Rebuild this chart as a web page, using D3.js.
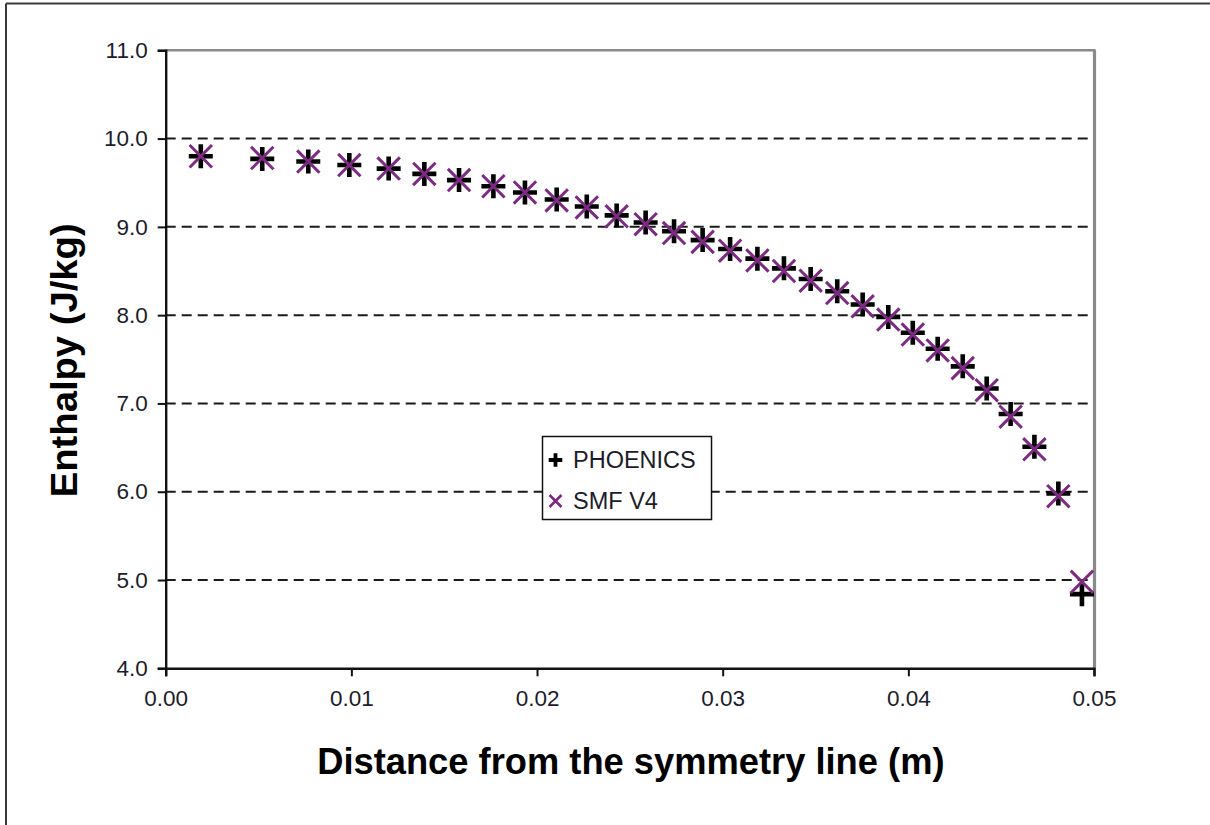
<!DOCTYPE html>
<html>
<head>
<meta charset="utf-8">
<script src="https://cdn.jsdelivr.net/npm/d3@7"></script>
<style>
  html, body { margin: 0; padding: 0; background: #fff; }
  svg { display: block; }
  text { font-family: "Liberation Sans", Arial, Helvetica, sans-serif; }
</style>
</head>
<body>
<svg id="chart" width="1210" height="825"></svg>
<script>
// ---- data ----
const distance = [0.00189, 0.00520, 0.00768, 0.00989, 0.01201, 0.01393, 0.01580, 0.01765,
  0.01935, 0.02106, 0.02268, 0.02429, 0.02585, 0.02738, 0.02892, 0.03040, 0.03187, 0.03330,
  0.03474, 0.03617, 0.03754, 0.03892, 0.04024, 0.04158, 0.04293, 0.04422, 0.04551, 0.04679,
  0.04808, 0.04935];
const phoenics = [9.80, 9.77, 9.74, 9.70, 9.66, 9.60, 9.53, 9.46, 9.39, 9.31, 9.23, 9.13,
  9.05, 8.95, 8.85, 8.75, 8.64, 8.53, 8.41, 8.27, 8.12, 7.98, 7.80, 7.62, 7.42, 7.17, 6.88,
  6.51, 5.98, 4.84];
const smfV4 = [9.80, 9.78, 9.74, 9.70, 9.66, 9.60, 9.53, 9.46, 9.39, 9.30, 9.22, 9.12,
  9.03, 8.93, 8.83, 8.73, 8.62, 8.50, 8.39, 8.25, 8.10, 7.95, 7.78, 7.60, 7.40, 7.15, 6.85,
  6.48, 5.95, 4.98];
const seriesNames = ["PHOENICS", "SMF V4"];
const yTicks = [4, 5, 6, 7, 8, 9, 10, 11];
const xTicks = [0, 0.01, 0.02, 0.03, 0.04, 0.05];
const xTitle = "Distance from the symmetry line (m)";
const yTitle = "Enthalpy (J/kg)";

// ---- layout ----
const svg = d3.select("#chart");
const L = 165.7, R = 1094, T = 50.3, B = 668.3;
const x = d3.scaleLinear().domain([0, 0.05]).range([L, R]);
const y = d3.scaleLinear().domain([4, 11]).range([B, T]);
const purple = "#7d2a82";

// outer frame (top and left edges visible)
svg.append("line").attr("x1", 6).attr("x2", 1210).attr("y1", 3.5).attr("y2", 3.5)
  .attr("stroke", "#3a3a3a").attr("stroke-width", 2);
svg.append("line").attr("x1", 6).attr("x2", 6).attr("y1", 3.5).attr("y2", 825)
  .attr("stroke", "#3a3a3a").attr("stroke-width", 2);

// gridlines (dashed) for 5..10
svg.append("g").selectAll("line")
  .data(yTicks.filter(d => d > 4 && d < 11))
  .join("line")
  .attr("x1", L).attr("x2", R)
  .attr("y1", d => y(d)).attr("y2", d => y(d))
  .attr("stroke", "#1a1a1a").attr("stroke-width", 2)
  .attr("stroke-dasharray", "10,6");

// plot area border: top and right grey
svg.append("line").attr("x1", L).attr("x2", R + 1.5).attr("y1", T).attr("y2", T)
  .attr("stroke", "#8a8a8a").attr("stroke-width", 2.4);
svg.append("line").attr("x1", R + 0.5).attr("x2", R + 0.5).attr("y1", T).attr("y2", B)
  .attr("stroke", "#8a8a8a").attr("stroke-width", 3.2);

// axes
const yAxis = svg.append("g").attr("transform", `translate(${L},0)`)
  .call(d3.axisLeft(y).tickValues(yTicks).tickFormat(d3.format(".1f")).tickSize(8).tickPadding(10));
const xAxis = svg.append("g").attr("transform", `translate(0,${B})`)
  .call(d3.axisBottom(x).tickValues(xTicks).tickFormat(d3.format(".2f")).tickSize(8).tickPadding(14));
[yAxis, xAxis].forEach(g => {
  g.select(".domain").attr("stroke", "#111").attr("stroke-width", 2.4);
  g.selectAll(".tick line").attr("stroke", "#111").attr("stroke-width", 2);
  g.selectAll(".tick text").attr("fill", "#1c1c2a").style("font-size", "22.5px")
    .style("font-family", "'Liberation Sans', Arial, sans-serif");
});

// titles
svg.append("text").attr("x", (L + R) / 2 + 1).attr("y", 774)
  .attr("text-anchor", "middle").style("font-size", "36.3px").style("font-weight", "bold")
  .attr("fill", "#000").text(xTitle);
svg.append("text").attr("transform", `translate(77,${(T + B) / 2 + 1}) rotate(-90)`)
  .attr("text-anchor", "middle").style("font-size", "36px").style("font-weight", "bold")
  .attr("textLength", 274).attr("lengthAdjust", "spacingAndGlyphs")
  .attr("fill", "#000").text(yTitle);

// markers
const plusPath = s => `M${-s},0H${s}M0,${-s}V${s}`;
const crossPath = s => `M${-s},${-s}L${s},${s}M${-s},${s}L${s},${-s}`;

const pts1 = distance.map((d, i) => ({ x: d, y: phoenics[i] }));
const pts2 = distance.map((d, i) => ({ x: d, y: smfV4[i] }));

svg.append("g").selectAll("path").data(pts1).join("path")
  .attr("transform", d => `translate(${x(d.x)},${y(d.y)})`)
  .attr("d", plusPath(12)).attr("stroke", "#000").attr("stroke-width", 4.6).attr("fill", "none");
svg.append("g").selectAll("path").data(pts2).join("path")
  .attr("transform", d => `translate(${x(d.x)},${y(d.y)})`)
  .attr("d", crossPath(11.2)).attr("stroke", purple).attr("stroke-width", 3).attr("fill", "none");

// legend
const lg = svg.append("g");
lg.append("rect").attr("x", 542.5).attr("y", 436.5).attr("width", 169).attr("height", 83)
  .attr("fill", "#fff").attr("stroke", "#111").attr("stroke-width", 1.5);
lg.append("path").attr("transform", "translate(555.5,460)").attr("d", plusPath(6.8))
  .attr("stroke", "#000").attr("stroke-width", 3.8).attr("fill", "none");
lg.append("path").attr("transform", "translate(555.5,501)").attr("d", crossPath(6))
  .attr("stroke", purple).attr("stroke-width", 2.6).attr("fill", "none");
lg.selectAll("text").data(seriesNames).join("text")
  .attr("x", 573).attr("y", (d, i) => 467.5 + i * 41)
  .style("font-size", "23.5px").attr("fill", "#1c1c2a").text(d => d);
</script>
</body>
</html>
